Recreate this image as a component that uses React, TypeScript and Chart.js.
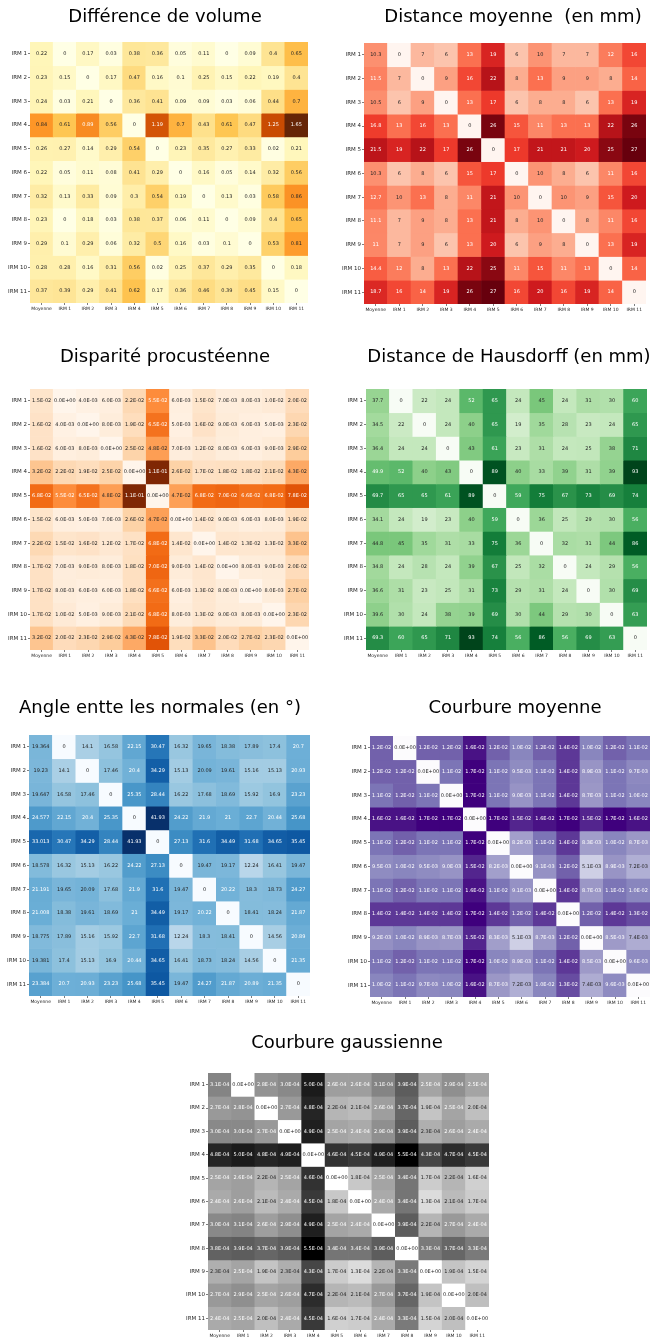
import React, { useEffect, useRef } from 'react';
import { Chart, registerables } from 'chart.js';

Chart.register(...registerables);
Chart.defaults.font.family = "'DejaVu Sans', sans-serif";

// ---------- labels ----------
const colLabels = ['Moyenne', 'IRM 1', 'IRM 2', 'IRM 3', 'IRM 4', 'IRM 5', 'IRM 6', 'IRM 7', 'IRM 8', 'IRM 9', 'IRM 10', 'IRM 11'];
const rowLabels = ['IRM 1', 'IRM 2', 'IRM 3', 'IRM 4', 'IRM 5', 'IRM 6', 'IRM 7', 'IRM 8', 'IRM 9', 'IRM 10', 'IRM 11'];

// ---------- data ----------
const volumeDiff = [
  [0.22, 0, 0.17, 0.03, 0.38, 0.36, 0.05, 0.11, 0, 0.09, 0.4, 0.65],
  [0.23, 0.15, 0, 0.17, 0.47, 0.16, 0.1, 0.25, 0.15, 0.22, 0.19, 0.4],
  [0.24, 0.03, 0.21, 0, 0.36, 0.41, 0.09, 0.09, 0.03, 0.06, 0.44, 0.7],
  [0.84, 0.61, 0.89, 0.56, 0, 1.19, 0.7, 0.43, 0.61, 0.47, 1.25, 1.65],
  [0.26, 0.27, 0.14, 0.29, 0.54, 0, 0.23, 0.35, 0.27, 0.33, 0.02, 0.21],
  [0.22, 0.05, 0.11, 0.08, 0.41, 0.29, 0, 0.16, 0.05, 0.14, 0.32, 0.56],
  [0.32, 0.13, 0.33, 0.09, 0.3, 0.54, 0.19, 0, 0.13, 0.03, 0.58, 0.86],
  [0.23, 0, 0.18, 0.03, 0.38, 0.37, 0.06, 0.11, 0, 0.09, 0.4, 0.65],
  [0.29, 0.1, 0.29, 0.06, 0.32, 0.5, 0.16, 0.03, 0.1, 0, 0.53, 0.81],
  [0.28, 0.28, 0.16, 0.31, 0.56, 0.02, 0.25, 0.37, 0.29, 0.35, 0, 0.18],
  [0.37, 0.39, 0.29, 0.41, 0.62, 0.17, 0.36, 0.46, 0.39, 0.45, 0.15, 0],
];

const meanDistance = [
  [10.3, 0, 7, 6, 13, 19, 6, 10, 7, 7, 12, 16],
  [11.5, 7, 0, 9, 16, 22, 8, 13, 9, 9, 8, 14],
  [10.5, 6, 9, 0, 13, 17, 6, 8, 8, 6, 13, 19],
  [16.8, 13, 16, 13, 0, 26, 15, 11, 13, 13, 22, 26],
  [21.5, 19, 22, 17, 26, 0, 17, 21, 21, 20, 25, 27],
  [10.3, 6, 8, 6, 15, 17, 0, 10, 8, 6, 11, 16],
  [12.7, 10, 13, 8, 11, 21, 10, 0, 10, 9, 15, 20],
  [11.1, 7, 9, 8, 13, 21, 8, 10, 0, 8, 11, 16],
  [11, 7, 9, 6, 13, 20, 6, 9, 8, 0, 13, 19],
  [14.4, 12, 8, 13, 22, 25, 11, 15, 11, 13, 0, 14],
  [18.7, 16, 14, 19, 26, 27, 16, 20, 16, 19, 14, 0],
];

const procrustes = [
  [1.5e-2, 0, 4.0e-3, 6.0e-3, 2.2e-2, 5.5e-2, 6.0e-3, 1.5e-2, 7.0e-3, 8.0e-3, 1.0e-2, 2.0e-2],
  [1.6e-2, 4.0e-3, 0, 8.0e-3, 1.9e-2, 6.5e-2, 5.0e-3, 1.6e-2, 9.0e-3, 6.0e-3, 5.0e-3, 2.3e-2],
  [1.6e-2, 6.0e-3, 8.0e-3, 0, 2.5e-2, 4.8e-2, 7.0e-3, 1.2e-2, 8.0e-3, 6.0e-3, 9.0e-3, 2.9e-2],
  [3.2e-2, 2.2e-2, 1.9e-2, 2.5e-2, 0, 1.1e-1, 2.6e-2, 1.7e-2, 1.8e-2, 1.8e-2, 2.1e-2, 4.3e-2],
  [6.8e-2, 5.5e-2, 6.5e-2, 4.8e-2, 1.1e-1, 0, 4.7e-2, 6.8e-2, 7.0e-2, 6.6e-2, 6.8e-2, 7.8e-2],
  [1.5e-2, 6.0e-3, 5.0e-3, 7.0e-3, 2.6e-2, 4.7e-2, 0, 1.4e-2, 9.0e-3, 6.0e-3, 8.0e-3, 1.9e-2],
  [2.2e-2, 1.5e-2, 1.6e-2, 1.2e-2, 1.7e-2, 6.8e-2, 1.4e-2, 0, 1.4e-2, 1.3e-2, 1.3e-2, 3.3e-2],
  [1.7e-2, 7.0e-3, 9.0e-3, 8.0e-3, 1.8e-2, 7.0e-2, 9.0e-3, 1.4e-2, 0, 8.0e-3, 9.0e-3, 2.0e-2],
  [1.7e-2, 8.0e-3, 6.0e-3, 6.0e-3, 1.8e-2, 6.6e-2, 6.0e-3, 1.3e-2, 8.0e-3, 0, 8.0e-3, 2.7e-2],
  [1.7e-2, 1.0e-2, 5.0e-3, 9.0e-3, 2.1e-2, 6.8e-2, 8.0e-3, 1.3e-2, 9.0e-3, 8.0e-3, 0, 2.3e-2],
  [3.2e-2, 2.0e-2, 2.3e-2, 2.9e-2, 4.3e-2, 7.8e-2, 1.9e-2, 3.3e-2, 2.0e-2, 2.7e-2, 2.3e-2, 0],
];

const hausdorff = [
  [37.7, 0, 22, 24, 52, 65, 24, 45, 24, 31, 30, 60],
  [34.5, 22, 0, 24, 40, 65, 19, 35, 28, 23, 24, 65],
  [36.4, 24, 24, 0, 43, 61, 23, 31, 24, 25, 38, 71],
  [49.9, 52, 40, 43, 0, 89, 40, 33, 39, 31, 39, 93],
  [69.7, 65, 65, 61, 89, 0, 59, 75, 67, 73, 69, 74],
  [34.1, 24, 19, 23, 40, 59, 0, 36, 25, 29, 30, 56],
  [44.8, 45, 35, 31, 33, 75, 36, 0, 32, 31, 44, 86],
  [34.8, 24, 28, 24, 39, 67, 25, 32, 0, 24, 29, 56],
  [36.6, 31, 23, 25, 31, 73, 29, 31, 24, 0, 30, 69],
  [39.6, 30, 24, 38, 39, 69, 30, 44, 29, 30, 0, 63],
  [69.3, 60, 65, 71, 93, 74, 56, 86, 56, 69, 63, 0],
];

const normalAngle = [
  [19.364, 0, 14.1, 16.58, 22.15, 30.47, 16.32, 19.65, 18.38, 17.89, 17.4, 20.7],
  [19.23, 14.1, 0, 17.46, 20.4, 34.29, 15.13, 20.09, 19.61, 15.16, 15.13, 20.93],
  [19.647, 16.58, 17.46, 0, 25.35, 28.44, 16.22, 17.68, 18.69, 15.92, 16.9, 23.23],
  [24.577, 22.15, 20.4, 25.35, 0, 41.93, 24.22, 21.9, 21, 22.7, 20.44, 25.68],
  [33.013, 30.47, 34.29, 28.44, 41.93, 0, 27.13, 31.6, 34.49, 31.68, 34.65, 35.45],
  [18.578, 16.32, 15.13, 16.22, 24.22, 27.13, 0, 19.47, 19.17, 12.24, 16.41, 19.47],
  [21.191, 19.65, 20.09, 17.68, 21.9, 31.6, 19.47, 0, 20.22, 18.3, 18.73, 24.27],
  [21.008, 18.38, 19.61, 18.69, 21, 34.49, 19.17, 20.22, 0, 18.41, 18.24, 21.87],
  [18.775, 17.89, 15.16, 15.92, 22.7, 31.68, 12.24, 18.3, 18.41, 0, 14.56, 20.89],
  [19.381, 17.4, 15.13, 16.9, 20.44, 34.65, 16.41, 18.73, 18.24, 14.56, 0, 21.35],
  [23.384, 20.7, 20.93, 23.23, 25.68, 35.45, 19.47, 24.27, 21.87, 20.89, 21.35, 0],
];

const meanCurvature = [
  [1.2e-2, 0, 1.2e-2, 1.2e-2, 1.6e-2, 1.2e-2, 1.0e-2, 1.2e-2, 1.4e-2, 1.0e-2, 1.2e-2, 1.1e-2],
  [1.2e-2, 1.2e-2, 0, 1.1e-2, 1.7e-2, 1.1e-2, 9.5e-3, 1.1e-2, 1.4e-2, 8.9e-3, 1.1e-2, 9.7e-3],
  [1.1e-2, 1.2e-2, 1.1e-2, 0, 1.7e-2, 1.1e-2, 9.0e-3, 1.1e-2, 1.4e-2, 8.7e-3, 1.1e-2, 1.0e-2],
  [1.6e-2, 1.6e-2, 1.7e-2, 1.7e-2, 0, 1.7e-2, 1.5e-2, 1.6e-2, 1.7e-2, 1.5e-2, 1.7e-2, 1.6e-2],
  [1.1e-2, 1.2e-2, 1.1e-2, 1.1e-2, 1.7e-2, 0, 8.2e-3, 1.1e-2, 1.4e-2, 8.3e-3, 1.0e-2, 8.7e-3],
  [9.5e-3, 1.0e-2, 9.5e-3, 9.0e-3, 1.5e-2, 8.2e-3, 0, 9.1e-3, 1.2e-2, 5.1e-3, 8.9e-3, 7.2e-3],
  [1.1e-2, 1.2e-2, 1.1e-2, 1.1e-2, 1.6e-2, 1.1e-2, 9.1e-3, 0, 1.4e-2, 8.7e-3, 1.1e-2, 1.0e-2],
  [1.4e-2, 1.4e-2, 1.4e-2, 1.4e-2, 1.7e-2, 1.4e-2, 1.2e-2, 1.4e-2, 0, 1.2e-2, 1.4e-2, 1.3e-2],
  [9.2e-3, 1.0e-2, 8.9e-3, 8.7e-3, 1.5e-2, 8.3e-3, 5.1e-3, 8.7e-3, 1.2e-2, 0, 8.5e-3, 7.4e-3],
  [1.1e-2, 1.2e-2, 1.1e-2, 1.1e-2, 1.7e-2, 1.0e-2, 8.9e-3, 1.1e-2, 1.4e-2, 8.5e-3, 0, 9.6e-3],
  [1.0e-2, 1.1e-2, 9.7e-3, 1.0e-2, 1.6e-2, 8.7e-3, 7.2e-3, 1.0e-2, 1.3e-2, 7.4e-3, 9.6e-3, 0],
];

const gaussCurvature = [
  [3.1e-4, 0, 2.8e-4, 3.0e-4, 5.0e-4, 2.6e-4, 2.6e-4, 3.1e-4, 3.9e-4, 2.5e-4, 2.9e-4, 2.5e-4],
  [2.7e-4, 2.8e-4, 0, 2.7e-4, 4.8e-4, 2.2e-4, 2.1e-4, 2.6e-4, 3.7e-4, 1.9e-4, 2.5e-4, 2.0e-4],
  [3.0e-4, 3.0e-4, 2.7e-4, 0, 4.9e-4, 2.5e-4, 2.4e-4, 2.9e-4, 3.9e-4, 2.3e-4, 2.6e-4, 2.4e-4],
  [4.8e-4, 5.0e-4, 4.8e-4, 4.9e-4, 0, 4.6e-4, 4.5e-4, 4.9e-4, 5.5e-4, 4.3e-4, 4.7e-4, 4.5e-4],
  [2.5e-4, 2.6e-4, 2.2e-4, 2.5e-4, 4.6e-4, 0, 1.8e-4, 2.5e-4, 3.4e-4, 1.7e-4, 2.2e-4, 1.6e-4],
  [2.4e-4, 2.6e-4, 2.1e-4, 2.4e-4, 4.5e-4, 1.8e-4, 0, 2.4e-4, 3.4e-4, 1.3e-4, 2.1e-4, 1.7e-4],
  [3.0e-4, 3.1e-4, 2.6e-4, 2.9e-4, 4.9e-4, 2.5e-4, 2.4e-4, 0, 3.9e-4, 2.2e-4, 2.7e-4, 2.4e-4],
  [3.8e-4, 3.9e-4, 3.7e-4, 3.9e-4, 5.5e-4, 3.4e-4, 3.4e-4, 3.9e-4, 0, 3.3e-4, 3.7e-4, 3.3e-4],
  [2.3e-4, 2.5e-4, 1.9e-4, 2.3e-4, 4.3e-4, 1.7e-4, 1.3e-4, 2.2e-4, 3.3e-4, 0, 1.9e-4, 1.5e-4],
  [2.7e-4, 2.9e-4, 2.5e-4, 2.6e-4, 4.7e-4, 2.2e-4, 2.1e-4, 2.7e-4, 3.7e-4, 1.9e-4, 0, 2.0e-4],
  [2.4e-4, 2.5e-4, 2.0e-4, 2.4e-4, 4.5e-4, 1.6e-4, 1.7e-4, 2.4e-4, 3.3e-4, 1.5e-4, 2.0e-4, 0],
];

// ---------- colour maps (ColorBrewer 9-class, as in matplotlib) ----------
const YlOrBr = ['#ffffe5', '#fff7bc', '#fee391', '#fec44f', '#fe9929', '#ec7014', '#cc4c02', '#993404', '#662506'];
const Reds = ['#fff5f0', '#fee0d2', '#fcbba1', '#fc9272', '#fb6a4a', '#ef3b2c', '#cb181d', '#a50f15', '#67000d'];
const Oranges = ['#fff5eb', '#fee6ce', '#fdd0a2', '#fdae6b', '#fd8d3c', '#f16913', '#d94801', '#a63603', '#7f2704'];
const Greens = ['#f7fcf5', '#e5f5e0', '#c7e9c0', '#a1d99b', '#74c476', '#41ab5d', '#238b45', '#006d2c', '#00441b'];
const Blues = ['#f7fbff', '#deebf7', '#c6dbef', '#9ecae1', '#6baed6', '#4292c6', '#2171b5', '#08519c', '#08306b'];
const Purples = ['#fcfbfd', '#efedf5', '#dadaeb', '#bcbddc', '#9e9ac8', '#807dba', '#6a51a3', '#54278f', '#3f007d'];
const Greys = ['#ffffff', '#f0f0f0', '#d9d9d9', '#bdbdbd', '#969696', '#737373', '#525252', '#252525', '#000000'];

function hexToRgb(h: string) {
  return [parseInt(h.slice(1, 3), 16), parseInt(h.slice(3, 5), 16), parseInt(h.slice(5, 7), 16)];
}

function sampleCmap(stops: string[], t: number) {
  const tc = Math.max(0, Math.min(1, t));
  const k = Math.min(255, Math.floor(tc * 256));
  const tt = k / 255;
  const pos = tt * (stops.length - 1);
  const i = Math.min(stops.length - 2, Math.floor(pos));
  const f = pos - i;
  const a = hexToRgb(stops[i]);
  const b = hexToRgb(stops[i + 1]);
  const rgb = a.map((v, j) => v + (b[j] - v) * f);
  const lin = rgb.map((v) => {
    const c = v / 255;
    return c <= 0.03928 ? c / 12.92 : Math.pow((c + 0.055) / 1.055, 2.4);
  });
  const lum = 0.2126 * lin[0] + 0.7152 * lin[1] + 0.0722 * lin[2];
  return {
    css: `rgb(${Math.round(rgb[0])},${Math.round(rgb[1])},${Math.round(rgb[2])})`,
    text: lum > 0.408 ? '#262626' : '#ffffff',
  };
}

const fmtPlain = (v: number) => String(v);
const fmtSci = (v: number) => {
  if (v === 0) return '0.0E+00';
  let exp = Math.floor(Math.log10(Math.abs(v)) + 1e-9);
  let m = Math.round((v / Math.pow(10, exp)) * 10) / 10;
  if (m >= 10) {
    m = m / 10;
    exp += 1;
  }
  const sign = exp < 0 ? '-' : '+';
  const e = String(Math.abs(exp)).padStart(2, '0');
  return `${m.toFixed(1)}E${sign}${e}`;
};

type Geom = { cl: number; ct: number; cw: number; L: number; T: number; R: number; B: number; ty: number; tx: number };
type Spec = { title: string; values: number[][]; cmap: string[]; fmt: (v: number) => string; geom: Geom };

const specs: Spec[] = [
  { title: 'Différence de volume', values: volumeDiff, cmap: YlOrBr, fmt: fmtPlain,
    geom: { cl: 0, ct: 0, cw: 330, L: 30, T: 42, R: 308, B: 303, ty: 17, tx: 165 } },
  { title: 'Distance moyenne  (en mm)', values: meanDistance, cmap: Reds, fmt: fmtPlain,
    geom: { cl: 335, ct: 0, cw: 315, L: 364, T: 43, R: 646, B: 304, ty: 17, tx: 513 } },
  { title: 'Disparité procustéenne', values: procrustes, cmap: Oranges, fmt: fmtSci,
    geom: { cl: 0, ct: 335, cw: 330, L: 30, T: 389, R: 309, B: 650, ty: 357, tx: 165 } },
  { title: 'Distance de Hausdorff (en mm)', values: hausdorff, cmap: Greens, fmt: fmtPlain,
    geom: { cl: 335, ct: 335, cw: 315, L: 366, T: 389, R: 647, B: 650, ty: 357, tx: 509 } },
  { title: 'Angle entte les normales (en °)', values: normalAngle, cmap: Blues, fmt: fmtPlain,
    geom: { cl: 0, ct: 685, cw: 330, L: 29, T: 735, R: 310, B: 996, ty: 708, tx: 160 } },
  { title: 'Courbure moyenne', values: meanCurvature, cmap: Purples, fmt: fmtSci,
    geom: { cl: 335, ct: 685, cw: 315, L: 370, T: 736, R: 650, B: 997, ty: 708, tx: 515 } },
  { title: 'Courbure gaussienne', values: gaussCurvature, cmap: Greys, fmt: fmtSci,
    geom: { cl: 170, ct: 1020, cw: 340, L: 208, T: 1073, R: 489, B: 1330, ty: 1043, tx: 347 } },
];

const TITLE_SIZE = 18;
const TITLE_LH = 1.2;
const Y_W = 24;
const X_H = 12;
const BOTTOM_PAD = 2;
const TEXT_COLOR = '#262626';

function Heatmap({ spec }: { spec: Spec }) {
  const ref = useRef<HTMLCanvasElement>(null);
  const g = spec.geom;
  const ch = g.B - g.ct + X_H + BOTTOM_PAD;

  useEffect(() => {
    const rows = spec.values;
    const flat = rows.flat();
    const vmin = Math.min(...flat);
    const vmax = Math.max(...flat);
    const cells = rows.map((row) => row.map((v) => sampleCmap(spec.cmap, (v - vmin) / (vmax - vmin))));

    const pt = g.ty - g.ct - (TITLE_SIZE * TITLE_LH) / 2;
    const pb = g.T - g.ct - pt - TITLE_SIZE * TITLE_LH;

    const annot = {
      id: 'annot',
      afterLayout(chart: any) {
        // place the title centre at the wanted horizontal position
        const tb = chart.titleBlock;
        if (tb) {
          const want = g.tx - g.cl;
          const cur = (tb.left + tb.right) / 2;
          const d = want - cur;
          tb.left += d;
          tb.right += d;
        }
      },
      afterDatasetsDraw(chart: any) {
        const ctx = chart.ctx;
        ctx.save();
        ctx.font = "5px 'DejaVu Sans', sans-serif";
        ctx.textAlign = 'center';
        ctx.textBaseline = 'middle';
        rows.forEach((row, i) => {
          const meta = chart.getDatasetMeta(i);
          meta.data.forEach((el: any, j: number) => {
            const p = el.getProps(['x', 'y', 'base'], true);
            ctx.fillStyle = cells[i][j].text;
            ctx.fillText(spec.fmt(row[j]), p.x, (p.y + p.base) / 2);
          });
        });
        ctx.restore();
      },
    };

    const chart = new Chart(ref.current as HTMLCanvasElement, {
      type: 'bar',
      data: {
        labels: colLabels,
        datasets: rows.map((row, i) => ({
          label: rowLabels[i],
          data: row.map(() => 1),
          backgroundColor: cells[i].map((c) => c.css),
          borderWidth: 0,
          barPercentage: 1,
          categoryPercentage: 1,
        })),
      },
      options: {
        responsive: false,
        animation: false,
        events: [],
        layout: {
          padding: {
            left: g.L - g.cl - Y_W,
            right: g.cl + g.cw - g.R,
            top: 0,
            bottom: BOTTOM_PAD,
          },
        },
        plugins: {
          legend: { display: false },
          tooltip: { enabled: false },
          title: {
            display: true,
            text: spec.title,
            color: '#000000',
            font: { size: TITLE_SIZE, weight: 'normal', lineHeight: TITLE_LH },
            padding: { top: pt, bottom: pb },
          },
        },
        scales: {
          x: {
            type: 'category',
            stacked: true,
            offset: true,
            border: { display: false },
            grid: { offset: false, drawOnChartArea: false, drawTicks: true, tickLength: 2, color: TEXT_COLOR, lineWidth: 0.6 },
            ticks: { font: { size: 4.5 }, color: TEXT_COLOR, padding: 1, maxRotation: 0, minRotation: 0, autoSkip: false },
            afterFit: (s: any) => { s.height = X_H; },
          },
          y: {
            type: 'linear',
            stacked: true,
            reverse: true,
            min: 0,
            max: rowLabels.length,
            border: { display: false },
            grid: { drawOnChartArea: false, drawTicks: true, tickLength: 2, color: TEXT_COLOR, lineWidth: 0.6 },
            afterBuildTicks: (s: any) => { s.ticks = rowLabels.map((_, i) => ({ value: i + 0.5 })); },
            ticks: {
              font: { size: 5.5 },
              color: TEXT_COLOR,
              padding: 1,
              autoSkip: false,
              callback: (_v: any, i: number) => rowLabels[i],
            },
            afterFit: (s: any) => { s.width = Y_W; },
          },
        },
      } as any,
      plugins: [annot],
    });
    return () => chart.destroy();
  }, []);

  return (
    <canvas
      ref={ref}
      width={g.cw}
      height={ch}
      style={{ position: 'absolute', left: g.cl, top: g.ct, width: g.cw, height: ch }}
    />
  );
}

export default function App() {
  return (
    <div
      style={{
        position: 'absolute',
        left: 0,
        top: 0,
        width: 650,
        height: 1339,
        overflow: 'hidden',
        background: '#ffffff',
      }}
    >
      {specs.map((s) => (
        <Heatmap key={s.title} spec={s} />
      ))}
    </div>
  );
}
